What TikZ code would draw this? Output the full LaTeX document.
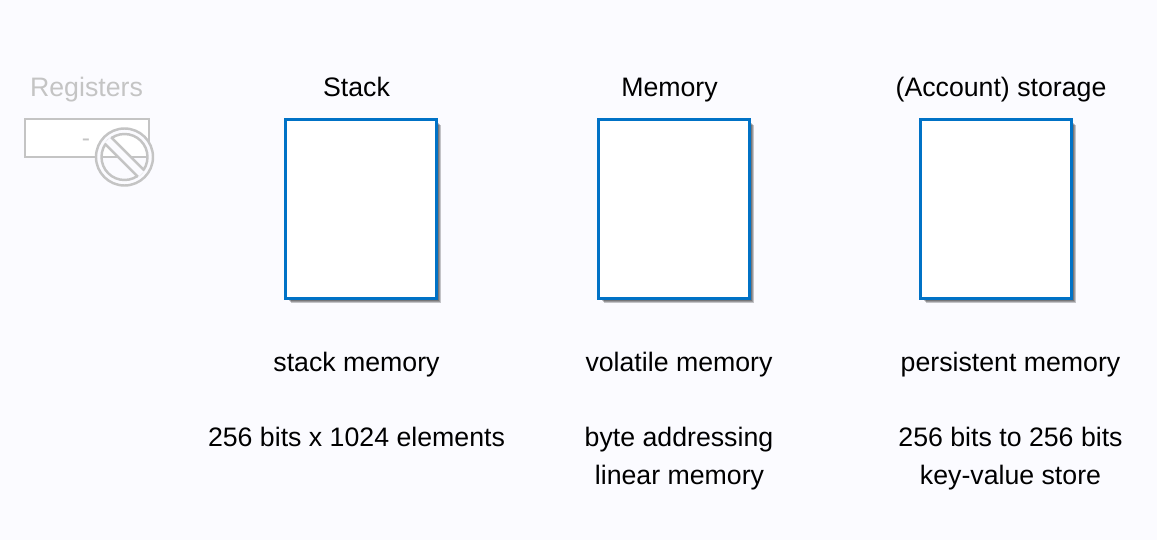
\documentclass[tikz,border=0pt]{standalone}
\usepackage{xcolor}
\usepackage{fontspec}
\setmainfont{Liberation Sans}
\usetikzlibrary{shadows}
\definecolor{pagebg}{RGB}{251,251,255}
\definecolor{boxblue}{RGB}{0,114,198}
\definecolor{offgray}{RGB}{196,196,196}
\tikzset{
    softshadow/.style={drop shadow={shadow xshift=#1,shadow yshift=-#1,fill=black,opacity=0.22}},
    membox/.style={draw=boxblue,fill=white,line width=1.5pt,minimum width=3.02cm,minimum height=3.58cm,inner sep=0pt,
        softshadow=0.1cm,softshadow=0.08cm,softshadow=0.06cm},
    lbl/.style={font=\fontsize{15.2pt}{18pt}\selectfont,text=black,inner sep=0pt,anchor=base},
    offlbl/.style={lbl,text=offgray},
    offline/.style={draw=offgray,line width=1.4pt}
}
\begin{document}
\begin{tikzpicture}[x=0.02cm,y=-0.02cm]
\fill[pagebg] (0,0) rectangle (1157,540);
\useasboundingbox (0,0) rectangle (1157,540);
% disabled registers
\node[offlbl] (regtitle) at (86.5,97) {Registers};
\node[offline,fill=white,minimum width=2.47cm,minimum height=0.75cm,inner sep=0pt] (regbox) at (87,138) {};
\node[offlbl,font=\fontsize{14pt}{16pt}\selectfont] (regdash) at (86,147) {-};
% no-entry sign
\fill[pagebg,even odd rule] (124.5,157) circle (28.5) circle (23);
\draw[offline] (124.5,157) circle (28.5);
\draw[offline] (124.5,157) circle (23);
\begin{scope}[shift={(124.5,157)},rotate=-45]
\fill[pagebg] (-24,-4.5) rectangle (24,4.5);
\draw[offline] (-23.5,-4.5) -- (23.5,-4.5);
\draw[offline] (-23.5,4.5) -- (23.5,4.5);
\end{scope}
% memory areas
\node[membox] (stackbox) at (361,209) {};
\node[membox] (membox) at (674,209) {};
\node[membox] (storebox) at (996,209) {};
% titles
\node[lbl] (stacktitle) at (356.5,97) {Stack};
\node[lbl] (memtitle) at (669.5,97) {Memory};
\node[lbl] (storetitle) at (1001,97) {(Account) storage};
% descriptions
\node[lbl] (stackkind) at (356.5,372) {stack memory};
\node[lbl] (memkind) at (679,372) {volatile memory};
\node[lbl] (storekind) at (1010.5,372) {persistent memory};
\node[lbl] (stacksize) at (356.5,447) {256 bits x 1024 elements};
\node[lbl] (memaddr) at (679,447) {byte addressing};
\node[lbl] (memlin) at (679.5,485) {linear memory};
\node[lbl] (storesize) at (1010.5,447) {256 bits to 256 bits};
\node[lbl] (storekv) at (1010.5,485) {key-value store};
\end{tikzpicture}
\end{document}
